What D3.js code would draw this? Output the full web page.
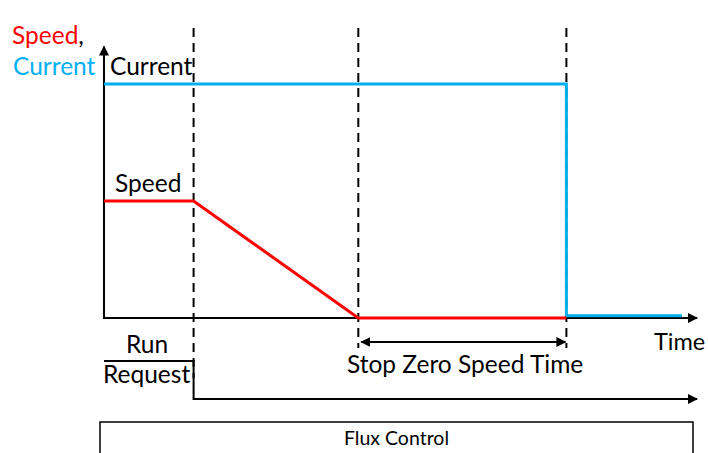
<!DOCTYPE html>
<html>
<head>
<meta charset="utf-8">
<script src="https://cdn.jsdelivr.net/npm/d3@7"></script>
<style>
  body { margin: 0; background: #fff; }
  text { font-family: Lato, "Open Sans", sans-serif; }
</style>
</head>
<body>
<svg id="chart" width="708" height="453"></svg>
<script>
// event times (arbitrary units) and signal levels (% of full)
var eventTimes = [1.55, 4.4, 8.0];          // run request off, speed hits zero, current off
var speedTimes = [0, 1.55, 4.4, 8.0];
var speedValues = [50, 50, 0, 0];
var currentTimes = [0, 8.0, 8.0, 10];
var currentValues = [100, 100, 1, 1];
var runTimes = [0, 1.55, 1.55, 10.26];
var runValues = [1, 1, 0, 0];

var svg = d3.select("#chart");

var x = d3.scaleLinear().domain([0, 10]).range([104, 682]);
var y = d3.scaleLinear().domain([0, 100]).range([318, 84]);
var yRun = d3.scaleLinear().domain([0, 1]).range([399, 361]);

var defs = svg.append("defs");
defs.append("marker")
  .attr("id", "arrow")
  .attr("viewBox", "0 0 10 10")
  .attr("refX", 9).attr("refY", 5)
  .attr("markerWidth", 5).attr("markerHeight", 5)
  .attr("markerUnits", "strokeWidth")
  .attr("orient", "auto-start-reverse")
  .append("path").attr("d", "M0,0 L10,5 L0,10 z").attr("fill", "black");

// axes
svg.append("line")
  .attr("x1", x(0)).attr("y1", y(0) + 1)
  .attr("x2", x(0)).attr("y2", y(116))
  .attr("stroke", "black").attr("stroke-width", 2)
  .attr("marker-end", "url(#arrow)");
svg.append("line")
  .attr("x1", x(0)).attr("y1", y(0))
  .attr("x2", x(10.26)).attr("y2", y(0))
  .attr("stroke", "black").attr("stroke-width", 2)
  .attr("marker-end", "url(#arrow)");

// dashed event markers
var dashBottom = [378, 348, 348];
svg.selectAll("line.event")
  .data(eventTimes)
  .enter().append("line")
  .attr("class", "event")
  .attr("x1", function(d) { return x(d); })
  .attr("x2", function(d) { return x(d); })
  .attr("y1", 28)
  .attr("y2", function(d, i) { return dashBottom[i]; })
  .attr("stroke", "black").attr("stroke-width", 2)
  .attr("stroke-dasharray", "9,6");

var line = d3.line()
  .x(function(d) { return x(d[0]); })
  .y(function(d) { return y(d[1]); });

svg.append("path")
  .datum(d3.zip(currentTimes, currentValues))
  .attr("d", line)
  .attr("fill", "none").attr("stroke", "#00b0f0").attr("stroke-width", 3);

svg.append("path")
  .datum(d3.zip(speedTimes, speedValues))
  .attr("d", line)
  .attr("fill", "none").attr("stroke", "#ff0000").attr("stroke-width", 3);

// run request signal
var runLine = d3.line()
  .x(function(d) { return x(d[0]); })
  .y(function(d) { return yRun(d[1]); });
svg.append("path")
  .datum(d3.zip(runTimes, runValues))
  .attr("d", runLine)
  .attr("fill", "none").attr("stroke", "black").attr("stroke-width", 2)
  .attr("marker-end", "url(#arrow)");

// stop zero speed time span
svg.append("line")
  .attr("x1", x(eventTimes[1]) + 3).attr("y1", 342)
  .attr("x2", x(eventTimes[2]) - 1).attr("y2", 342)
  .attr("stroke", "black").attr("stroke-width", 2)
  .attr("marker-start", "url(#arrow)")
  .attr("marker-end", "url(#arrow)");

// flux control box
svg.append("rect")
  .attr("x", 100).attr("y", 422)
  .attr("width", 593).attr("height", 40)
  .attr("fill", "none").attr("stroke", "black").attr("stroke-width", 1.5);

// labels
function label(txt, lx, ly, size, color) {
  return svg.append("text")
    .attr("x", lx).attr("y", ly)
    .attr("font-size", size)
    .attr("fill", color || "black")
    .text(txt);
}
var sp = svg.append("text").attr("x", 12).attr("y", 44).attr("font-size", 24.5);
sp.append("tspan").attr("fill", "#ff0000").text("Speed");
sp.append("tspan").attr("fill", "black").text(",");
label("Current", 13, 75, 24.5, "#00b0f0");
label("Current", 110, 75, 24.5);
label("Speed", 115, 192, 24.5);
label("Time", 654, 350, 23.5);
label("Stop Zero Speed Time", 347, 373, 24.5);
label("Run", 126, 353, 24.5);
label("Request", 103, 383, 24.5);
label("Flux Control", 344, 445, 19.5);
</script>
</body>
</html>
